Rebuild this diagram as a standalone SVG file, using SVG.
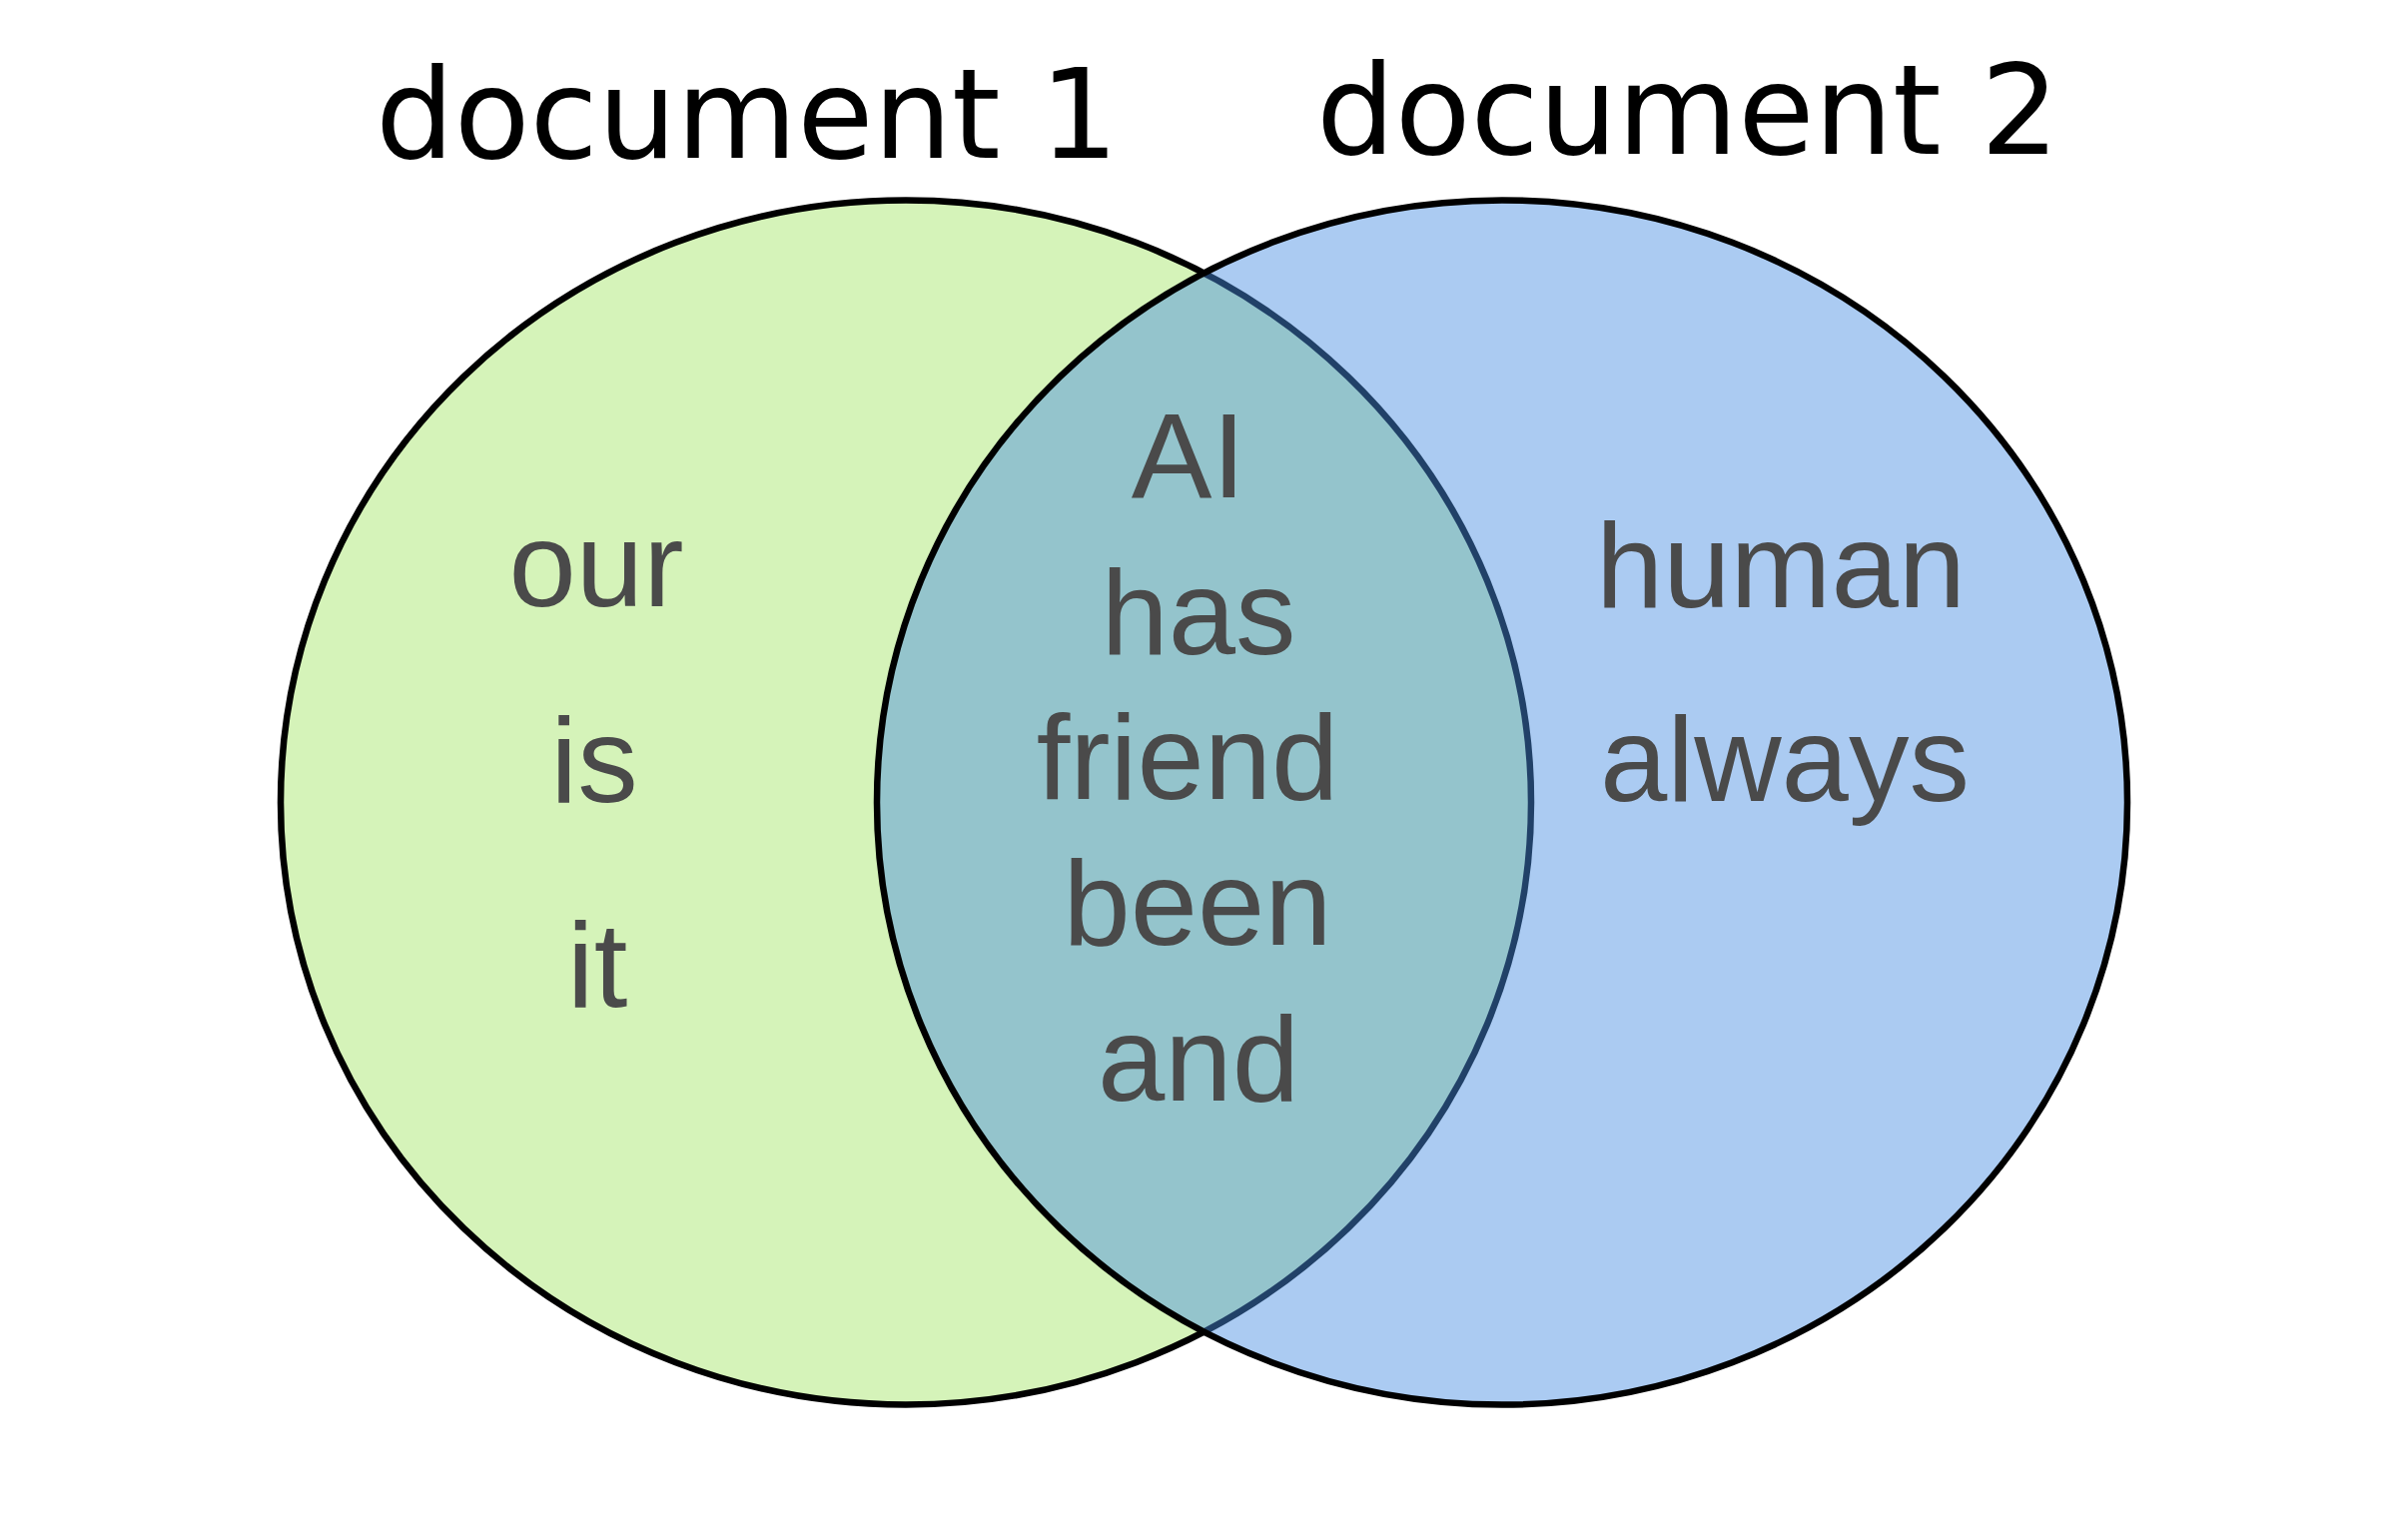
<svg xmlns="http://www.w3.org/2000/svg" width="2411" height="1542" viewBox="0 0 2411 1542">
<style>
.title{font-family:"DejaVu Sans",Verdana,sans-serif;font-size:124px;fill:#000}
.w{font-family:"Liberation Sans",Arial,sans-serif;font-size:121px;fill:#4a4a4a;text-anchor:middle}
.ring{stroke:#000;stroke-width:6.5}
</style>
<rect width="2411" height="1542" fill="#fff"/>
<g id="doc1">
<ellipse class="ring" cx="907" cy="803.5" rx="626" ry="603" fill="#d5f3b9"/>
</g>
<g id="doc2">
<ellipse class="ring" cx="1504" cy="803.5" rx="626" ry="603" fill="rgb(72,142,227)" fill-opacity="0.46"/>
</g>
<g id="connectors"></g>
<g id="labels">
<text class="title" x="376" y="158">document 1</text>
<text class="title" x="1318" y="154">document 2</text>
</g>
<g id="only1">
<text class="w" x="597" y="607">our</text>
<text class="w" x="595" y="803">is</text>
<text class="w" x="598" y="1008">it</text>
</g>
<g id="both">
<text class="w" x="1190" y="498">AI</text>
<text class="w" x="1200" y="655">has</text>
<text class="w" x="1189" y="800">friend</text>
<text class="w" x="1199" y="946">been</text>
<text class="w" x="1200" y="1102">and</text>
</g>
<g id="only2">
<text class="w" x="1783" y="608">human</text>
<text class="w" x="1787" y="802">always</text>
</g>
</svg>
